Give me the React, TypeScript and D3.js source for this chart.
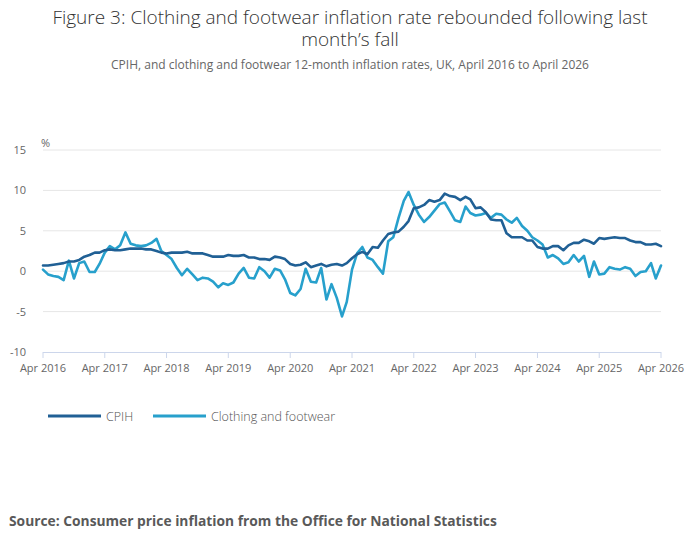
import * as d3 from "d3";
import { useEffect, useRef } from "react";

// Apr 2016 .. Apr 2026, one value per month
const startMonth = "Apr 2016";
const cpih = [
  0.7, 0.7, 0.8, 0.9, 1.0, 1.2, 1.2, 1.4, 1.8,
  2.0, 2.3, 2.3, 2.6, 2.7, 2.6, 2.6, 2.7, 2.8, 2.8, 2.8, 2.7,
  2.7, 2.5, 2.3, 2.2, 2.3, 2.3, 2.3, 2.4, 2.2, 2.2, 2.2, 2.0,
  1.8, 1.8, 1.8, 2.0, 1.9, 1.9, 2.0, 1.7, 1.7, 1.5, 1.5, 1.4,
  1.8, 1.7, 1.5, 0.9, 0.7, 0.8, 1.1, 0.5, 0.7, 0.9, 0.6, 0.8,
  0.9, 0.7, 1.0, 1.6, 2.1, 2.4, 2.1, 3.0, 2.9, 3.8, 4.6, 4.8,
  4.9, 5.5, 6.2, 7.8, 7.9, 8.2, 8.8, 8.6, 8.8, 9.6, 9.3, 9.2,
  8.8, 9.2, 8.9, 7.8, 7.9, 7.3, 6.4, 6.3, 6.3, 4.7, 4.2, 4.2,
  4.2, 3.8, 3.8, 3.0, 2.8, 2.8, 3.1, 3.1, 2.6, 3.2, 3.5, 3.5,
  3.9, 3.7, 3.4, 4.1, 4.0, 4.1, 4.2, 4.1, 4.1, 3.8, 3.6, 3.6,
  3.3, 3.3, 3.4, 3.1,
];
const clothing = [
  0.2, -0.4, -0.6, -0.7, -1.1, 1.3, -0.9, 1.0, 1.2,
  -0.1, -0.1, 0.9, 2.3, 3.1, 2.7, 3.2, 4.8, 3.4, 3.2, 3.1, 3.2,
  3.5, 4.0, 2.5, 2.0, 1.5, 0.4, -0.5, 0.3, -0.4, -1.1, -0.8, -0.9,
  -1.3, -2.0, -1.5, -1.7, -1.4, -0.3, 0.4, -0.8, -0.9, 0.5, 0.0, -0.8,
  0.3, 0.1, -1.0, -2.7, -3.0, -2.2, 0.3, -1.3, -1.4, 0.4, -3.5, -1.6,
  -3.3, -5.6, -3.8, 0.2, 2.2, 3.0, 1.7, 1.4, 0.5, -0.3, 3.7, 4.2,
  6.6, 8.7, 9.8, 8.2, 7.0, 6.1, 6.7, 7.5, 8.3, 8.5, 7.4, 6.3,
  6.1, 8.0, 7.2, 6.9, 7.0, 7.2, 6.6, 7.1, 7.0, 6.4, 6.0, 6.6,
  5.6, 5.0, 4.2, 3.8, 3.3, 1.7, 2.0, 1.6, 0.9, 1.1, 2.0, 1.2,
  1.9, -0.7, 1.2, -0.4, -0.3, 0.5, 0.3, 0.2, 0.5, 0.3, -0.6, -0.1,
  0.0, 1.0, -0.9, 0.7,
];
const xTickLabels = [
  "Apr 2016", "Apr 2017", "Apr 2018", "Apr 2019", "Apr 2020", "Apr 2021",
  "Apr 2022", "Apr 2023", "Apr 2024", "Apr 2025", "Apr 2026",
];
const yTicks = [-10, -5, 0, 5, 10, 15];

const seriesList = [
  { name: "CPIH", values: cpih, color: "#206095" },
  { name: "Clothing and footwear", values: clothing, color: "#27a0cc" },
];

const width = 700;
const height = 549;
const font = "'Open Sans', sans-serif";

const App = () => {
  const svgRef = useRef<SVGSVGElement | null>(null);

  useEffect(() => {
    const margin = { top: 150, right: 39, bottom: 197, left: 43 };
    const w = width - margin.left - margin.right;
    const h = height - margin.top - margin.bottom;

    const startDate = d3.timeParse("%b %Y")(startMonth) as Date;
    const monthDate = (i: number) => d3.timeMonth.offset(startDate, i);

    const xScale = d3
      .scaleTime()
      .domain([startDate, monthDate(cpih.length - 1)])
      .range([0, w]);
    const yScale = d3.scaleLinear().domain([-10, 15]).range([h, 0]);

    const svg = d3.select(svgRef.current);
    svg.selectAll("*").remove();

    // titles
    svg
      .append("text")
      .attr("x", width / 2)
      .attr("y", 24)
      .attr("text-anchor", "middle")
      .attr("font-size", 19)
      .attr("font-weight", 300)
      .attr("fill", "#333")
      .text("Figure 3: Clothing and footwear inflation rate rebounded following last");
    svg
      .append("text")
      .attr("x", width / 2)
      .attr("y", 46)
      .attr("text-anchor", "middle")
      .attr("font-size", 19)
      .attr("font-weight", 300)
      .attr("fill", "#333")
      .text("month\u2019s fall");
    svg
      .append("text")
      .attr("x", width / 2)
      .attr("y", 69)
      .attr("text-anchor", "middle")
      .attr("font-size", 12)
      .attr("fill", "#666")
      .text("CPIH, and clothing and footwear 12-month inflation rates, UK, April 2016 to April 2026");

    const group = svg
      .append("g")
      .attr("transform", `translate(${margin.left},${margin.top})`);

    // gridlines
    group
      .selectAll(".grid")
      .data(yTicks.filter((t) => t !== -10))
      .join("line")
      .attr("x1", 0)
      .attr("x2", w)
      .attr("y1", (d) => yScale(d))
      .attr("y2", (d) => yScale(d))
      .attr("stroke", "#e6e6e6");

    group
      .selectAll(".ylab")
      .data(yTicks)
      .join("text")
      .attr("x", -17)
      .attr("y", (d) => yScale(d) + 4)
      .attr("text-anchor", "end")
      .attr("font-size", 11)
      .attr("fill", "#666")
      .text((d) => d);

    group
      .append("text")
      .attr("x", -2)
      .attr("y", -3)
      .attr("font-size", 11)
      .attr("fill", "#666")
      .text("%");

    // x axis
    group
      .append("line")
      .attr("x1", 0)
      .attr("x2", w)
      .attr("y1", h + 0.5)
      .attr("y2", h + 0.5)
      .attr("stroke", "#ccd6eb");

    const tickDates = xTickLabels.map((_, i) => monthDate(i * 12));
    group
      .selectAll(".xtick")
      .data(tickDates)
      .join("line")
      .attr("x1", (d) => xScale(d))
      .attr("x2", (d) => xScale(d))
      .attr("y1", h)
      .attr("y2", h + 6)
      .attr("stroke", "#ccd6eb");
    group
      .selectAll(".xlab")
      .data(tickDates)
      .join("text")
      .attr("x", (d) => xScale(d))
      .attr("y", h + 20)
      .attr("text-anchor", "middle")
      .attr("font-size", 11)
      .attr("fill", "#666")
      .text((_, i) => xTickLabels[i]);

    const line = d3
      .line<number>()
      .x((_, i) => xScale(monthDate(i)))
      .y((d) => yScale(d));

    seriesList
      .slice()
      .reverse()
      .forEach((s) => {
        group
          .append("path")
          .datum(s.values)
          .attr("fill", "none")
          .attr("stroke", s.color)
          .attr("stroke-width", 2.6)
          .attr("stroke-linejoin", "round")
          .attr("stroke-linecap", "round")
          .attr("d", line);
      });

    // legend
    const legend = svg.append("g").attr("transform", "translate(48,416)");
    const legendX = [0, 105];
    seriesList.forEach((s, i) => {
      legend
        .append("line")
        .attr("x1", legendX[i])
        .attr("x2", legendX[i] + 53)
        .attr("y1", 0)
        .attr("y2", 0)
        .attr("stroke", s.color)
        .attr("stroke-width", 3);
      legend
        .append("text")
        .attr("x", legendX[i] + 58)
        .attr("y", 4.5)
        .attr("font-size", 12.5)
        .attr("font-weight", 300)
        .attr("fill", "#555")
        .text(s.name);
    });

    svg
      .append("text")
      .attr("x", 9)
      .attr("y", 526)
      .attr("font-size", 13.8)
      .attr("font-weight", "bold")
      .attr("fill", "#595959")
      .text("Source: Consumer price inflation from the Office for National Statistics");
  }, []);

  return (
    <svg
      ref={svgRef}
      width={width}
      height={height}
      fontFamily={font}
      style={{ position: "absolute", left: 0, top: 0, background: "#fff" }}
    ></svg>
  );
};

export default App;
